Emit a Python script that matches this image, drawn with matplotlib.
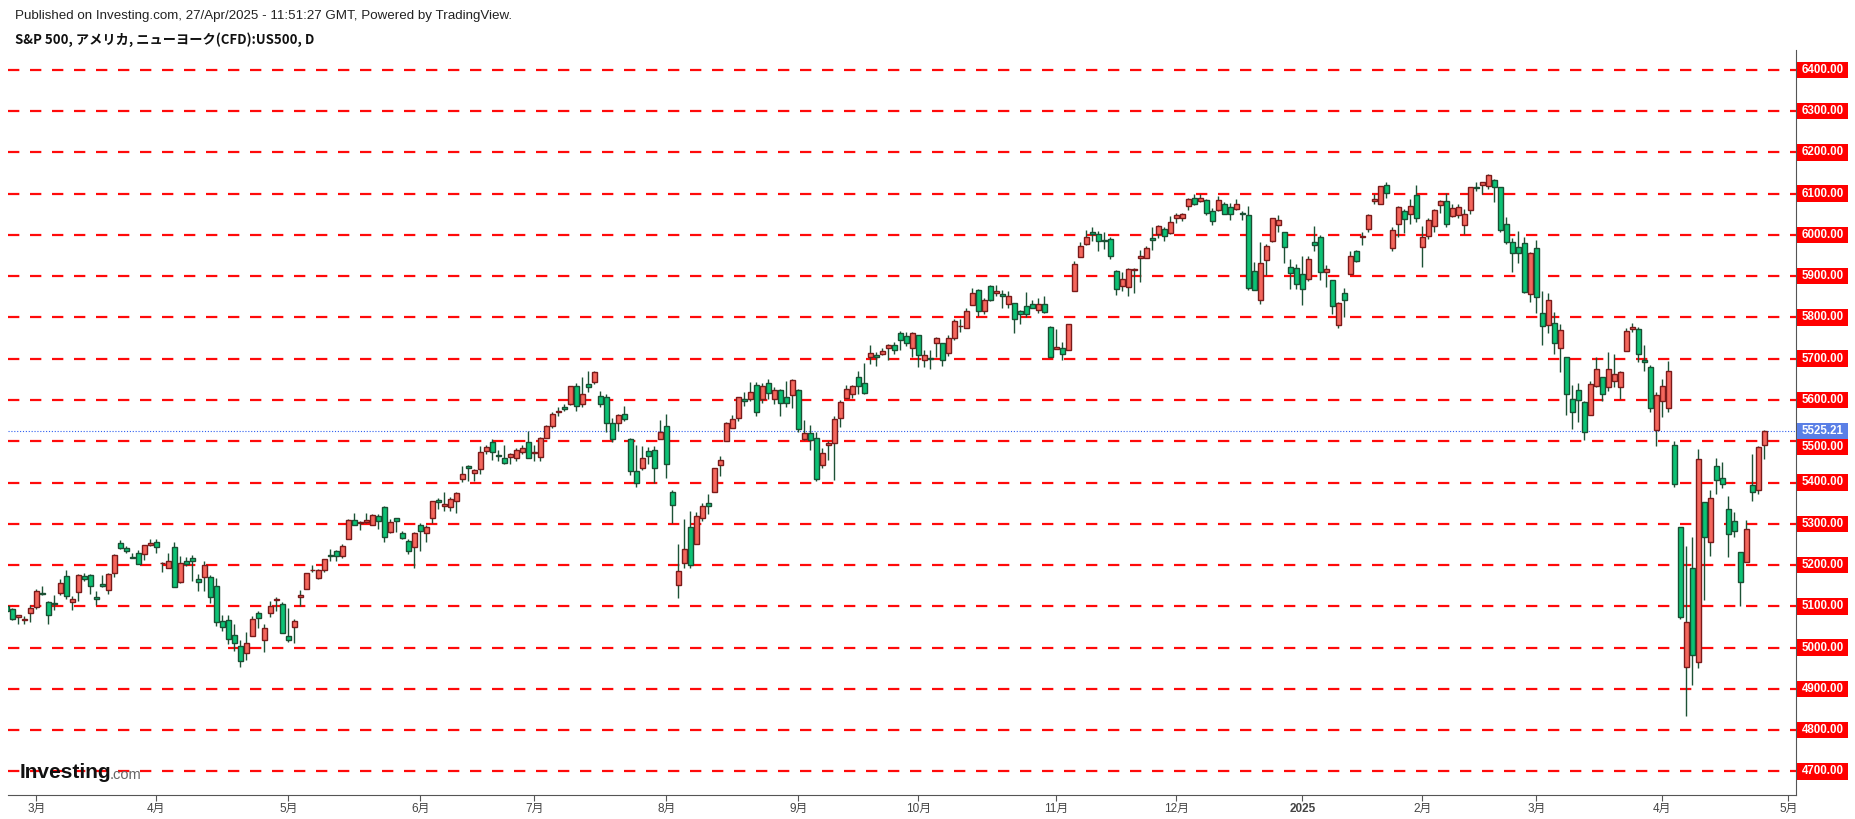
import numpy as np
import pandas as pd
import matplotlib
matplotlib.use('Agg')
import matplotlib.pyplot as plt
from matplotlib.patches import Rectangle

plt.rcParams['font.family'] = ['Liberation Sans', 'Noto Sans CJK JP']

# ---- data: S&P 500 daily candles ----
holidays = ['2024-03-29', '2024-05-27', '2024-06-19', '2024-07-04', '2024-09-02',
            '2024-11-28', '2024-12-25', '2025-01-01', '2025-01-09', '2025-01-20',
            '2025-02-17', '2025-04-18']

opens = [
    5100, 5093, 5074, 5068, 5085,
    5098, 5131, 5110, 5109, 5132, 5173, 5111, 5134, 5174, 5175, 5123, 5154, 5139, 5181, 5254, 5242, 5219, 5229, 5226, 5248,
    5257, 5204, 5194, 5244, 5158, 5211, 5217, 5167, 5172, 5171, 5150, 5064, 5068, 5031, 5005, 4988, 5028, 5084, 5019, 5084, 5115, 5106,
    5029, 5050, 5122, 5142, 5187, 5168, 5189, 5225, 5233, 5221, 5263, 5310, 5303, 5305, 5298, 5319, 5340, 5281, 5315, 5278, 5259, 5244,
    5297, 5278, 5314, 5357, 5344, 5341, 5354, 5409, 5441, 5424, 5432, 5477, 5499, 5466, 5459, 5461, 5460, 5473, 5499,
    5471, 5461, 5507, 5537, 5572, 5584, 5591, 5635, 5590, 5638, 5644, 5610, 5608, 5544, 5545, 5566, 5505, 5428, 5434, 5477, 5478, 5505,
    5537, 5376, 5151, 5206, 5293, 5252, 5314, 5351, 5376, 5442, 5501, 5531, 5557, 5602, 5603, 5637, 5603, 5640, 5602, 5624, 5607, 5612,
    5624, 5506, 5520, 5507, 5443, 5491, 5496, 5557, 5604, 5615, 5655, 5641, 5703, 5709, 5712, 5727, 5733, 5762, 5756, 5727,
    5757, 5698, 5700, 5737, 5737, 5714, 5751, 5778, 5775, 5829, 5866, 5816, 5875, 5860, 5857, 5833, 5835, 5816, 5827, 5833, 5819, 5833, 5776,
    5723, 5725, 5722, 5864, 5947, 5977, 6008, 6003, 5986, 5990, 5913, 5876, 5874, 5915, 5944, 5945, 5992, 6001, 6015, 6004,
    6040, 6042, 6069, 6089, 6081, 6084, 6057, 6060, 6075, 6068, 6063, 6053, 6048, 5913, 5843, 5940, 5984, 6025, 6006, 5921, 5920,
    5904, 5892, 5983, 5994, 5910, 5890, 5782, 5859, 5906, 5962, 5995, 6014, 6082, 6076, 6121, 5969, 6027, 6057, 6050, 6097,
    5970, 5998, 6021, 6072, 6083, 6046, 6049, 6025, 6060, 6115, 6121, 6118, 6134, 6115, 6027, 5982, 5971, 5981, 5857,
    5968, 5811, 5782, 5786, 5726, 5705, 5603, 5624, 5594, 5563, 5635, 5655, 5632, 5646, 5631, 5718, 5772, 5771, 5696, 5679, 5527,
    5597, 5580, 5492, 5292, 4953, 5193, 4965, 5353, 5255, 5441, 5411, 5335, 5306, 5232, 5207, 5395, 5381, 5490,
]
highs = [
    5111, 5097, 5080, 5077, 5104,
    5141, 5149, 5114, 5127, 5165, 5189, 5124, 5179, 5180, 5179, 5136, 5176, 5180, 5226, 5261, 5246, 5229, 5236, 5249, 5264,
    5264, 5208, 5228, 5256, 5222, 5219, 5224, 5178, 5211, 5175, 5168, 5079, 5078, 5057, 5019, 5038, 5076, 5089, 5057, 5114, 5123, 5111,
    5096, 5069, 5139, 5181, 5200, 5191, 5215, 5239, 5237, 5250, 5311, 5325, 5306, 5325, 5324, 5323, 5342, 5311, 5315, 5282, 5263, 5280,
    5302, 5298, 5355, 5362, 5376, 5365, 5376, 5441, 5442, 5432, 5488, 5490, 5505, 5478, 5490, 5472, 5484, 5490, 5524,
    5490, 5510, 5539, 5570, 5583, 5590, 5635, 5642, 5655, 5670, 5669, 5622, 5614, 5556, 5566, 5585, 5508, 5491, 5488, 5487, 5489, 5551,
    5566, 5383, 5250, 5312, 5330, 5328, 5350, 5371, 5436, 5464, 5546, 5564, 5608, 5620, 5643, 5643, 5641, 5651, 5631, 5627, 5646, 5651,
    5627, 5552, 5540, 5522, 5484, 5501, 5560, 5600, 5636, 5637, 5671, 5690, 5733, 5716, 5726, 5735, 5741, 5767, 5764, 5765,
    5757, 5720, 5722, 5753, 5739, 5757, 5796, 5795, 5822, 5871, 5870, 5846, 5878, 5878, 5867, 5863, 5835, 5817, 5862, 5843, 5848, 5851, 5780,
    5772, 5741, 5783, 5936, 5983, 6012, 6018, 6009, 6008, 5994, 5915, 5909, 5920, 5920, 5964, 5973, 6020, 6025, 6020, 6045,
    6053, 6052, 6089, 6100, 6099, 6088, 6065, 6093, 6080, 6078, 6086, 6058, 6070, 5935, 5982, 5978, 6040, 6049, 6006, 5941, 5929,
    5950, 5949, 6021, 6000, 5927, 5890, 5837, 5871, 5961, 5964, 6008, 6051, 6100, 6119, 6128, 6018, 6069, 6063, 6087, 6121,
    6022, 6042, 6062, 6085, 6101, 6074, 6076, 6063, 6116, 6128, 6129, 6147, 6135, 6115, 6044, 5993, 6010, 5994, 5959,
    5987, 5865, 5860, 5812, 5783, 5705, 5636, 5642, 5597, 5645, 5703, 5655, 5716, 5711, 5670, 5775, 5786, 5777, 5732, 5685, 5620,
    5650, 5695, 5500, 5292, 5247, 5268, 5482, 5353, 5381, 5460, 5450, 5368, 5329, 5232, 5309, 5469, 5489, 5528,
]
lows = [
    5081, 5068, 5058, 5058, 5062,
    5094, 5127, 5057, 5092, 5128, 5117, 5091, 5114, 5161, 5129, 5104, 5148, 5131, 5171, 5240, 5229, 5216, 5203, 5213, 5246,
    5229, 5184, 5194, 5146, 5157, 5197, 5161, 5138, 5138, 5107, 5053, 5039, 5008, 4991, 4953, 4969, 5027, 5047, 4990, 5073, 5089, 5035,
    5013, 5011, 5101, 5142, 5182, 5165, 5182, 5210, 5211, 5217, 5263, 5296, 5284, 5303, 5297, 5287, 5256, 5278, 5280, 5263, 5226, 5192,
    5234, 5257, 5303, 5336, 5331, 5331, 5327, 5402, 5404, 5403, 5421, 5468, 5455, 5452, 5446, 5446, 5453, 5469, 5460,
    5451, 5452, 5507, 5531, 5562, 5574, 5587, 5574, 5583, 5620, 5639, 5584, 5522, 5497, 5525, 5550, 5419, 5390, 5430, 5445, 5398, 5505,
    5410, 5302, 5120, 5194, 5193, 5251, 5306, 5324, 5376, 5416, 5501, 5531, 5550, 5585, 5598, 5560, 5592, 5602, 5591, 5561, 5583, 5581,
    5522, 5503, 5478, 5403, 5434, 5454, 5406, 5535, 5604, 5604, 5615, 5615, 5686, 5683, 5708, 5698, 5712, 5722, 5730, 5704,
    5681, 5681, 5675, 5703, 5683, 5707, 5745, 5764, 5775, 5829, 5804, 5808, 5840, 5853, 5824, 5822, 5762, 5784, 5800, 5822, 5811, 5810, 5703,
    5723, 5696, 5722, 5864, 5947, 5976, 5986, 5960, 5966, 5942, 5854, 5865, 5853, 5860, 5885, 5944, 5963, 5993, 5984, 6003,
    6028, 6034, 6061, 6072, 6079, 6047, 6024, 6059, 6051, 6035, 6060, 6035, 5867, 5866, 5832, 5903, 5982, 6007, 5933, 5869, 5868,
    5829, 5888, 5960, 5890, 5874, 5809, 5774, 5802, 5906, 5935, 5976, 6006, 6076, 6075, 6089, 5962, 5994, 6004, 6027, 6031,
    5923, 5991, 6008, 6052, 6020, 6044, 6042, 6003, 6050, 6107, 6100, 6111, 6080, 6008, 5977, 5909, 5932, 5858, 5837,
    5810, 5732, 5762, 5711, 5667, 5564, 5529, 5546, 5504, 5563, 5632, 5598, 5622, 5632, 5603, 5718, 5765, 5691, 5670, 5572, 5488,
    5558, 5571, 5390, 5069, 4835, 4910, 4950, 5115, 5221, 5373, 5386, 5220, 5267, 5101, 5207, 5356, 5371, 5456,
]
closes = [
    5089, 5069, 5078, 5070, 5096,
    5137, 5130, 5079, 5105, 5157, 5124, 5117, 5175, 5165, 5150, 5117, 5149, 5178, 5225, 5241, 5234, 5218, 5203, 5248, 5254,
    5243, 5205, 5211, 5147, 5204, 5202, 5209, 5160, 5199, 5123, 5061, 5051, 5022, 5011, 4967, 5010, 5070, 5071, 5048, 5100, 5116, 5036,
    5018, 5064, 5128, 5181, 5187, 5187, 5214, 5223, 5221, 5247, 5308, 5297, 5304, 5308, 5321, 5307, 5268, 5305, 5306, 5266, 5235, 5278,
    5283, 5291, 5354, 5352, 5347, 5361, 5375, 5421, 5434, 5431, 5473, 5487, 5473, 5465, 5448, 5469, 5478, 5483, 5460,
    5475, 5509, 5537, 5567, 5572, 5577, 5633, 5585, 5615, 5631, 5667, 5589, 5544, 5505, 5564, 5555, 5427, 5399, 5459, 5464, 5436, 5522,
    5446, 5346, 5186, 5240, 5199, 5319, 5344, 5344, 5434, 5455, 5543, 5554, 5608, 5597, 5620, 5570, 5635, 5616, 5625, 5592, 5592, 5648,
    5529, 5520, 5503, 5408, 5471, 5496, 5554, 5596, 5626, 5634, 5634, 5618, 5714, 5703, 5718, 5732, 5722, 5745, 5738, 5762,
    5709, 5709, 5699, 5751, 5696, 5751, 5792, 5780, 5815, 5859, 5815, 5843, 5841, 5864, 5853, 5851, 5797, 5809, 5808, 5823, 5832, 5813, 5705,
    5728, 5712, 5783, 5929, 5973, 5995, 6001, 5984, 5985, 5949, 5870, 5893, 5917, 5917, 5948, 5969, 5987, 6021, 5998, 6032,
    6047, 6050, 6086, 6075, 6090, 6053, 6034, 6084, 6051, 6051, 6074, 6050, 5872, 5867, 5931, 5974, 6040, 6037, 5970, 5907, 5882,
    5869, 5942, 5975, 5909, 5918, 5827, 5836, 5843, 5950, 5937, 5997, 6049, 6086, 6119, 6101, 6012, 6068, 6039, 6071, 6040,
    5994, 6037, 6061, 6083, 6026, 6066, 6068, 6051, 6115, 6114, 6129, 6144, 6117, 6013, 5983, 5955, 5956, 5861, 5955,
    5849, 5778, 5843, 5739, 5770, 5615, 5572, 5599, 5522, 5639, 5675, 5615, 5675, 5662, 5667, 5767, 5777, 5712, 5693, 5581, 5612,
    5633, 5671, 5397, 5074, 5062, 4982, 5457, 5268, 5363, 5406, 5397, 5276, 5283, 5158, 5288, 5376, 5485, 5525.21,
]
last_price = 5525.21
price_levels = list(range(4700, 6401, 100))

dates = pd.bdate_range('2024-02-23', '2025-04-25')
dates = dates[~dates.isin(pd.to_datetime(holidays))]

o = np.array(opens, float)
h = np.array(highs, float)
l = np.array(lows, float)
c = np.array(closes, float)
n = len(c)
x = np.arange(n)

# month ticks (first trading day of each month), plus May 2025
tick_pos, tick_lab = [], []
prev = (dates[0].year, dates[0].month)
for i, d in enumerate(dates):
    if (d.year, d.month) != prev:
        tick_pos.append(i)
        tick_lab.append(str(d.year) if d.month == 1 else f'{d.month}月')
        prev = (d.year, d.month)
tick_pos.append(n - 1 + 4)
tick_lab.append('5月')

# ---- figure ----
W, H = 1855, 819
fig = plt.figure(figsize=(W / 100, H / 100), dpi=100)
ax_left, ax_right, ax_top, ax_bot = 8, 1796, 50, 795
ax = fig.add_axes([ax_left / W, (H - ax_bot) / H, (ax_right - ax_left) / W, (ax_bot - ax_top) / H])

px_per_bar = 6.0
x0_px = 6.3
ax.set_xlim((ax_left - x0_px) / px_per_bar, (ax_right - x0_px) / px_per_bar)
px_per_pt = 0.4127
ax.set_ylim(6400 - (ax_bot - 69.8) / px_per_pt, 6400 + (69.8 - ax_top) / px_per_pt)

# dashed red price lines
for lv in price_levels:
    ax.axhline(lv, color='#ff0a0a', lw=1.6, linestyle=(0, (5.1, 4.8)), zorder=1)
ax.axhline(last_price, color='#2f5ff0', lw=0.8, linestyle=(0, (1, 1.6)), zorder=2)

# candles: red = up, green = down
up = c >= o
body_lo = np.minimum(o, c)
body_h = np.maximum(np.abs(c - o), 1.6)
ax.vlines(x, l, h, color='#1d5236', lw=1.0, zorder=3)
ax.bar(x[up], body_h[up], bottom=body_lo[up], width=0.74, color='#f4675d',
       edgecolor='#7a1a1a', linewidth=1.0, zorder=4)
ax.bar(x[~up], body_h[~up], bottom=body_lo[~up], width=0.74, color='#0dc275',
       edgecolor='#1a4f33', linewidth=1.0, zorder=4)

# axes styling
for s in ['top', 'left']:
    ax.spines[s].set_visible(False)
ax.spines['right'].set_color('#555555')
ax.spines['bottom'].set_color('#555555')
ax.set_yticks([])
ax.set_xticks(tick_pos)
ax.set_xticklabels(tick_lab)
ax.tick_params(axis='x', length=4, color='#555555', labelsize=8.5, labelcolor='#444444', pad=1.5)
for t in ax.get_xticklabels():
    if t.get_text() == '2025':
        t.set_fontweight('bold')

# price labels on the right
ytr = ax.get_yaxis_transform()
span = ax_right - ax_left
box_w = 51 / span
box_hh = 8.2 / px_per_pt
x_box = 1 + 1.2 / span
for lv in price_levels:
    yc = lv - 13 if lv == 5500 else lv
    ax.add_patch(Rectangle((x_box, yc - box_hh), box_w, 2 * box_hh, transform=ytr,
                           facecolor='#ff0000', edgecolor='none', clip_on=False, zorder=5))
    ax.text(x_box + box_w / 2, yc, f'{lv:.2f}', transform=ytr, ha='center', va='center',
            color='white', fontsize=8.3, fontweight='bold', clip_on=False, zorder=6)
ax.add_patch(Rectangle((x_box, last_price - box_hh), box_w, 2 * box_hh, transform=ytr,
                       facecolor='#5a7fe6', edgecolor='none', clip_on=False, zorder=5))
ax.text(x_box + box_w / 2, last_price, f'{last_price:.2f}', transform=ytr, ha='center', va='center',
        color='white', fontsize=8.3, fontweight='bold', clip_on=False, zorder=6)

# header
fig.text(15 / W, 1 - 16.5 / H,
         'Published on Investing.com, 27/Apr/2025 - 11:51:27 GMT, Powered by TradingView.',
         fontsize=9.6, color='#222222', va='center', ha='left')
fig.text(15 / W, 1 - 39.5 / H, 'S&P 500, アメリカ, ニューヨーク(CFD):US500, D',
         fontsize=9.5, fontweight='bold', color='#111111', va='center', ha='left',
         family=['Noto Sans CJK JP', 'DejaVu Sans'])

# logo
fig.text(20 / W, 1 - 772 / H, 'Investing', fontsize=15, fontweight='bold', color='#111111',
         va='center', ha='left', zorder=10)
fig.text(110 / W, 1 - 775 / H, '.com', fontsize=10.5, color='#666666', va='center', ha='left', zorder=10)

fig.savefig('out.png', dpi=100)
